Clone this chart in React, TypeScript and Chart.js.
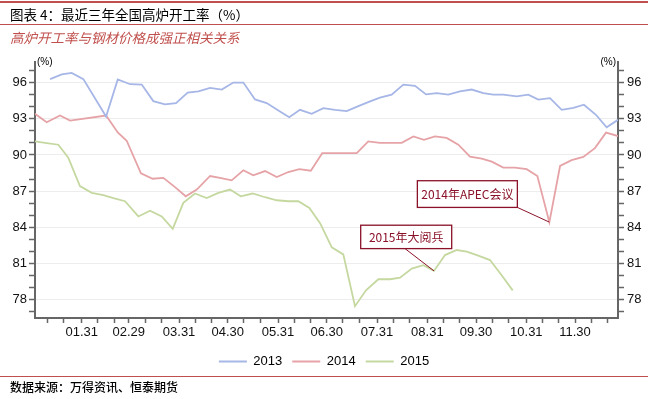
import React, { useEffect, useRef } from 'react';
import { Chart, registerables } from 'chart.js';

Chart.register(...registerables);

// ---- Data (day of year on the x axis, utilisation rate % on the y axis) ----
const seriesLabels = ['2013', '2014', '2015'];

const days2013 = [11.5, 18.7, 24.8, 32.0, 46.0, 53.2, 60.8, 68.0, 75.1, 82.3, 89.1, 96.3, 102.9, 110.1, 117.3, 124.4, 130.6, 137.8, 145.0, 152.2, 158.9, 165.5, 172.7, 179.9, 187.1, 194.3, 201.5, 208.7, 214.8, 222.0, 229.2, 236.4, 243.2, 249.8, 256.9, 264.1, 271.3, 278.5, 284.6, 290.8, 299.1, 306.2, 312.4, 319.6, 326.8, 334.0, 340.5, 347.9, 354.5, 361.5];
const rate2013 = [96.28, 96.67, 96.8, 96.28, 93.18, 96.25, 95.86, 95.83, 94.46, 94.19, 94.3, 95.16, 95.27, 95.55, 95.42, 96.0, 96.0, 94.6, 94.3, 93.69, 93.13, 93.74, 93.41, 93.88, 93.74, 93.63, 94.05, 94.44, 94.75, 95.0, 95.83, 95.72, 95.02, 95.13, 95.0, 95.27, 95.42, 95.13, 95.0, 95.0, 94.86, 95.0, 94.58, 94.71, 93.74, 93.91, 94.16, 93.33, 92.29, 92.91];

const days2014 = [2.2, 9.4, 17.6, 23.8, 46.0, 53.2, 58.7, 67.5, 74.7, 81.3, 88.5, 95.1, 101.9, 110.1, 116.2, 123.4, 130.6, 136.7, 144.0, 151.2, 158.3, 165.1, 172.2, 179.2, 186.1, 193.3, 200.5, 207.6, 214.8, 221.4, 228.2, 235.4, 241.9, 248.7, 255.9, 263.1, 270.3, 277.5, 283.7, 290.8, 298.0, 305.2, 311.8, 319.2, 325.8, 332.9, 340.1, 347.3, 354.1, 361.5];
const rate2014 = [93.41, 92.71, 93.27, 92.85, 93.27, 91.87, 91.18, 88.48, 88.03, 88.11, 87.34, 86.58, 87.14, 88.26, 88.11, 87.9, 88.73, 88.31, 88.67, 88.17, 88.59, 88.82, 88.7, 90.15, 90.15, 90.15, 90.15, 91.12, 91.01, 91.01, 91.01, 91.54, 91.26, 91.54, 91.41, 90.85, 89.87, 89.7, 89.45, 88.95, 88.95, 88.82, 88.26, 84.44, 89.09, 89.57, 89.84, 90.57, 91.85, 91.57];

const days2015 = [2.2, 9.4, 16.6, 22.7, 29.9, 37.2, 44.3, 51.1, 57.7, 65.9, 73.1, 80.3, 87.1, 93.6, 100.8, 108.0, 115.2, 122.4, 129.0, 136.4, 144.0, 151.2, 158.3, 164.5, 171.3, 177.9, 185.1, 192.2, 199.4, 206.2, 213.8, 221.0, 227.2, 234.4, 241.5, 248.1, 254.9, 262.1, 268.3, 275.4, 282.6, 289.8, 296.6];
const rate2015 = [91.12, 90.99, 90.85, 89.78, 87.42, 86.86, 86.67, 86.4, 86.17, 84.91, 85.39, 84.91, 83.89, 86.03, 86.81, 86.44, 86.86, 87.14, 86.58, 86.81, 86.5, 86.25, 86.17, 86.17, 85.61, 84.35, 82.35, 81.77, 77.48, 78.79, 79.71, 79.71, 79.84, 80.59, 80.88, 80.4, 81.71, 82.13, 81.99, 81.66, 81.3, 80.04, 78.79];

const monthEndDays = [31, 60, 91, 121, 152, 182, 213, 244, 274, 305, 335];
const monthEndLabels = ['01.31', '02.29', '03.31', '04.30', '05.31', '06.30', '07.31', '08.31', '09.30', '10.31', '11.30'];
const minorTickDays = [10, 20, 41, 51, 70, 80, 101, 111, 131, 141, 162, 172, 192, 202, 223, 233, 254, 264, 284, 294, 315, 325, 345, 355];

const yTickValues = [77, 78, 79, 80, 81, 82, 83, 84, 85, 86, 87, 88, 89, 90, 91, 92, 93, 94, 95, 96, 97];
const yLabelValues = [78, 81, 84, 87, 90, 93, 96];

const annotationTexts = ['2014年APEC会议', '2015年大阅兵'];

const colors = ['#a6b6e6', '#e6a3a7', '#c5d8a0'];
const FONT = "'Liberation Sans', Arial, sans-serif";
const CJK = "'Noto Sans CJK SC', 'Noto Sans', sans-serif";

const annotationPlugin = {
  id: 'callouts',
  afterDatasetsDraw(chart: any) {
    const ctx = chart.ctx;
    const specs = [
      { text: annotationTexts[0], ds: 1, idx: 43, bx: -132, by: -41.4, w: 100, h: 26.7, lx: -32, ly: -14.7 },
      { text: annotationTexts[1], ds: 2, idx: 35, bx: -73.3, by: -45.7, w: 91, h: 23.4, lx: -29, ly: -22.3 },
    ];
    ctx.save();
    specs.forEach((s) => {
      const pt = chart.getDatasetMeta(s.ds).data[s.idx];
      if (!pt) return;
      const px = pt.x, py = pt.y;
      ctx.strokeStyle = '#8a1128';
      ctx.lineWidth = 1;
      ctx.beginPath();
      ctx.moveTo(px + s.lx, py + s.ly);
      ctx.lineTo(px, py);
      ctx.stroke();
      ctx.fillStyle = '#ffffff';
      ctx.fillRect(px + s.bx, py + s.by, s.w, s.h);
      ctx.lineWidth = 1.3;
      ctx.strokeRect(px + s.bx, py + s.by, s.w, s.h);
      ctx.fillStyle = '#8a1128';
      ctx.font = `12px ${CJK}`;
      ctx.textAlign = 'center';
      ctx.textBaseline = 'middle';
      ctx.fillText(s.text, px + s.bx + s.w / 2, py + s.by + s.h / 2 + 0.5);
    });
    // unit labels above both y axes
    ctx.fillStyle = '#000';
    ctx.font = `10px ${FONT}`;
    ctx.textBaseline = 'middle';
    ctx.textAlign = 'left';
    ctx.fillText('(%)', chart.chartArea.left + 2, chart.chartArea.top);
    ctx.textAlign = 'right';
    ctx.fillText('(%)', chart.chartArea.right - 2, chart.chartArea.top);
    ctx.restore();
  },
};

export default function App() {
  const canvasRef = useRef<HTMLCanvasElement | null>(null);

  useEffect(() => {
    if (!canvasRef.current) return;
    const mk = (days: number[], vals: number[]) => days.map((d, i) => ({ x: d, y: vals[i] }));
    const allX = [...monthEndDays, ...minorTickDays].sort((a, b) => a - b);
    const yAxisCommon = {
      type: 'linear' as const,
      min: 76.5,
      max: 97.7,
      afterBuildTicks: (s: any) => {
        s.ticks = yTickValues.map((v) => ({ value: v }));
      },
      ticks: {
        callback: (v: any) => (yLabelValues.includes(Number(v)) ? String(v) : ''),
        font: { family: FONT, size: 13 },
        color: '#111',
        autoSkip: false,
      },
      border: { color: '#666', width: 2 },
    };
    const chart = new Chart(canvasRef.current, {
      type: 'line',
      data: {
        datasets: [
          { label: seriesLabels[0], data: mk(days2013, rate2013), borderColor: colors[0], backgroundColor: colors[0], borderWidth: 1.8, pointRadius: 0, tension: 0 },
          { label: seriesLabels[1], data: mk(days2014, rate2014), borderColor: colors[1], backgroundColor: colors[1], borderWidth: 1.8, pointRadius: 0, tension: 0 },
          { label: seriesLabels[2], data: mk(days2015, rate2015), borderColor: colors[2], backgroundColor: colors[2], borderWidth: 1.8, pointRadius: 0, tension: 0 },
        ],
      },
      options: {
        responsive: false,
        animation: false,
        layout: { padding: { top: 62, bottom: 21, left: 0, right: 0 } },
        scales: {
          x: {
            type: 'linear',
            min: 2.2,
            max: 361.5,
            afterBuildTicks: (s: any) => {
              s.ticks = allX.map((v) => ({ value: v }));
            },
            afterFit: (s: any) => {
              s.height = 27;
            },
            ticks: {
              callback: (v: any) => {
                const i = monthEndDays.indexOf(Number(v));
                return i >= 0 ? monthEndLabels[i] : '';
              },
              autoSkip: false,
              maxRotation: 0,
              minRotation: 0,
              padding: 2,
              font: { family: FONT, size: 13 },
              color: '#111',
            },
            grid: { drawOnChartArea: false, tickLength: 5, tickColor: '#666', tickWidth: 1.5 },
            border: { color: '#666', width: 2 },
          },
          y: {
            ...yAxisCommon,
            position: 'left',
            afterFit: (s: any) => {
              s.width = 35;
            },
            grid: {
              color: (c: any) => (c.tick && yLabelValues.includes(c.tick.value) ? '#ededed' : 'rgba(0,0,0,0)'),
              tickColor: '#666',
              tickLength: 6,
              tickWidth: 1.5,
            },
            ticks: { ...yAxisCommon.ticks, padding: 2 },
          },
          y2: {
            ...yAxisCommon,
            position: 'right',
            afterFit: (s: any) => {
              s.width = 30;
            },
            grid: { drawOnChartArea: false, tickColor: '#666', tickLength: 6, tickWidth: 1.5 },
            ticks: { ...yAxisCommon.ticks, padding: 3 },
          },
        },
        plugins: {
          legend: {
            position: 'bottom',
            labels: {
              boxWidth: 28,
              boxHeight: 2,
              padding: 10,
              font: { family: FONT, size: 13 },
              color: '#000',
              generateLabels: (ch: any) =>
                (Chart.defaults.plugins.legend.labels.generateLabels as any)(ch).map((l: any) => ({ ...l, lineWidth: 0 })),
            },
          },
          tooltip: { enabled: false },
        },
      } as any,
      plugins: [annotationPlugin],
    });
    return () => chart.destroy();
  }, []);

  const red = '#c0504d';
  return (
    <div style={{ position: 'fixed', left: 0, top: 0, width: 648, height: 399, background: '#fff', overflow: 'hidden' }}>
      <canvas ref={canvasRef} width={648} height={399} style={{ position: 'absolute', left: 0, top: 0, width: 648, height: 399 }} />
      <div style={{ position: 'absolute', left: 0, top: 1, width: 648, height: 1.5, background: red }} />
      <div style={{ position: 'absolute', left: 10, top: 5, height: 18, lineHeight: '18px', fontSize: 13.5, fontFamily: CJK, color: '#000', whiteSpace: 'nowrap' }}>
        图表 4：最近三年全国高炉开工率（%）
      </div>
      <div style={{ position: 'absolute', left: 0, top: 23.5, width: 648, height: 1.5, background: red }} />
      <div style={{ position: 'absolute', left: 10, top: 28, height: 18, lineHeight: '18px', fontSize: 13.5, fontFamily: CJK, fontStyle: 'italic', color: red, whiteSpace: 'nowrap' }}>
        高炉开工率与钢材价格成强正相关关系
      </div>
      <div style={{ position: 'absolute', left: 0, top: 375.5, width: 648, height: 1.5, background: red }} />
      <div style={{ position: 'absolute', left: 10, top: 378, height: 17, lineHeight: '17px', fontSize: 12, fontFamily: CJK, fontWeight: 500, color: '#000', whiteSpace: 'nowrap' }}>
        数据来源：万得资讯、恒泰期货
      </div>
    </div>
  );
}
